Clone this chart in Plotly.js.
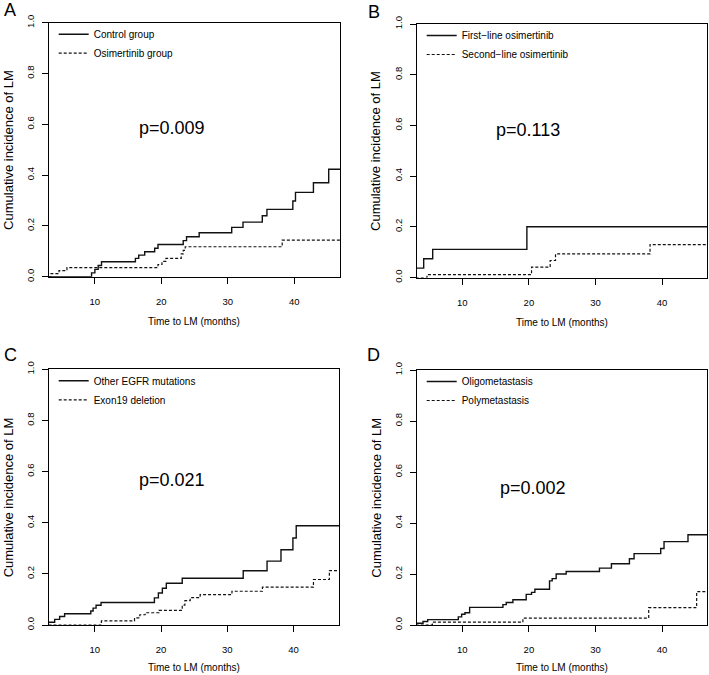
<!DOCTYPE html>
<html>
<head>
<meta charset="utf-8">
<script src="https://cdn.plot.ly/plotly-3.0.1.min.js"></script>
<style>html,body{margin:0;padding:0;background:#fff;}#chart{width:709px;height:675px;}</style>
</head>
<body>
<div id="chart"></div>
<script>
// ---- Data ----
// Panel A
const controlTime = [9.5, 10.0, 10.5, 11.0, 16.1, 16.6, 17.5, 19.0, 19.5, 23.3, 23.8, 25.7, 30.6, 32.3, 35.2, 35.9, 39.8, 40.2, 42.9, 45.2];
const controlCum  = [0.015, 0.029, 0.044, 0.059, 0.072, 0.085, 0.098, 0.112, 0.127, 0.142, 0.157, 0.173, 0.194, 0.215, 0.24, 0.265, 0.298, 0.332, 0.37, 0.423];
const osiTime = [3.4, 4.6, 5.8, 19.5, 20.1, 20.7, 23.0, 23.3, 23.6, 38.2];
const osiCum  = [0.012, 0.024, 0.036, 0.048, 0.06, 0.072, 0.09, 0.104, 0.118, 0.144];
// Panel B
const firstTime = [3.0, 4.2, 5.55, 19.7];
const firstCum  = [0.037, 0.074, 0.111, 0.2];
const secondTime = [4.7, 20.4, 23.2, 24.0, 38.2];
const secondCum  = [0.011, 0.041, 0.067, 0.093, 0.13];
// Panel C
const otherTime = [3.0, 3.95, 4.7, 5.45, 9.4, 9.75, 10.2, 10.95, 19.0, 19.6, 20.2, 20.8, 23.2, 32.4, 36.0, 38.1, 39.9, 40.4];
const otherCum  = [0.011, 0.022, 0.033, 0.044, 0.055, 0.066, 0.077, 0.088, 0.106, 0.125, 0.144, 0.163, 0.183, 0.212, 0.25, 0.294, 0.34, 0.388];
const exonTime = [11.0, 16.0, 16.8, 17.6, 19.7, 23.2, 23.6, 24.4, 25.9, 30.7, 35.3, 43.0, 45.4];
const exonCum  = [0.016, 0.028, 0.04, 0.048, 0.057, 0.078, 0.095, 0.107, 0.119, 0.132, 0.148, 0.178, 0.213];
// Panel D
const oligoTime = [3.0, 4.1, 4.8, 9.4, 9.9, 10.4, 11.1, 16.1, 16.6, 17.6, 19.6, 20.4, 20.9, 23.1, 23.5, 24.1, 25.6, 30.6, 32.4, 35.1, 35.8, 39.8, 40.3, 43.9];
const oligoCum  = [0.007, 0.014, 0.021, 0.032, 0.042, 0.048, 0.069, 0.08, 0.088, 0.099, 0.12, 0.128, 0.14, 0.173, 0.182, 0.2, 0.21, 0.223, 0.24, 0.26, 0.28, 0.3, 0.327, 0.354];
const polyTime = [5.5, 19.1, 38.0, 45.2];
const polyCum  = [0.011, 0.027, 0.068, 0.131];

const panelLetters = ['A', 'B', 'C', 'D'];
const pValues = ['p=0.009', 'p=0.113', 'p=0.021', 'p=0.002'];
const pPosX = [21.6, 19.8, 21.6, 20.6];
const pPosY = [0.584, 0.58, 0.566, 0.536];
const seriesNames = [
  ['Control group', 'Osimertinib group'],
  ['First\u2212line osimertinib', 'Second\u2212line osimertinib'],
  ['Other EGFR mutations', 'Exon19 deletion'],
  ['Oligometastasis', 'Polymetastasis']
];
const xTickVals = [10, 20, 30, 40];
const yTickVals = [0, 0.2, 0.4, 0.6, 0.8, 1.0];
const yTickText = ['0.0', '0.2', '0.4', '0.6', '0.8', '1.0'];
const xTitle = 'Time to LM (months)';
const yTitle = 'Cumulative incidence of LM';

// ---- Build chart ----
const FONT = 'Liberation Sans, Arial, Helvetica, sans-serif';
const W = 709, H = 675;
const END_T = 47.5;

function steps(t, c) {
  return { x: [0].concat(t, [END_T]), y: [0].concat(c, [c[c.length - 1]]) };
}

const data = [
  [controlTime, controlCum, osiTime, osiCum],
  [firstTime, firstCum, secondTime, secondCum],
  [otherTime, otherCum, exonTime, exonCum],
  [oligoTime, oligoCum, polyTime, polyCum]
];

// panel boxes in pixels: [left, right, top, bottom]
const boxes = [
  [48.7, 340.0, 22.7, 276.7],
  [416.7, 707.3, 24.0, 277.5],
  [48.7, 339.3, 369.3, 625.0],
  [416.7, 707.3, 370.0, 625.0]
];
const xRanges = [[3.05, 46.9], [3.15, 46.8], [3.05, 46.9], [3.15, 46.8]];

const traces = [];
const layout = {
  width: W, height: H,
  margin: { l: 0, r: 0, t: 0, b: 0 },
  paper_bgcolor: '#fff', plot_bgcolor: '#fff',
  font: { family: FONT, color: '#000' },
  annotations: [],
  showlegend: true
};

data.forEach((d, i) => {
  const n = i === 0 ? '' : String(i + 1);
  const legendId = 'legend' + n;
  const s1 = steps(d[0], d[1]);
  const s2 = steps(d[2], d[3]);
  traces.push({
    x: s1.x, y: s1.y, type: 'scatter', mode: 'lines',
    line: { shape: 'hv', color: '#111', width: 1.4 },
    name: seriesNames[i][0], xaxis: 'x' + n, yaxis: 'y' + n, legend: legendId,
    hoverinfo: 'x+y'
  });
  traces.push({
    x: s2.x, y: s2.y, type: 'scatter', mode: 'lines',
    line: { shape: 'hv', color: '#111', width: 1.2, dash: '3px,2px' },
    name: seriesNames[i][1], xaxis: 'x' + n, yaxis: 'y' + n, legend: legendId,
    hoverinfo: 'x+y'
  });
  const b = boxes[i];
  const axCommon = {
    showline: true, mirror: true, linecolor: '#000', linewidth: 1,
    ticks: 'outside', ticklen: 6, tickwidth: 1, tickcolor: '#000',
    showgrid: false, zeroline: false, fixedrange: true,
    tickfont: { family: FONT, size: 9.5, color: '#000' }
  };
  layout['xaxis' + n] = Object.assign({}, axCommon, {
    domain: [b[0] / W, b[1] / W], anchor: 'y' + n,
    range: xRanges[i], tickmode: 'array', tickvals: xTickVals,
    ticklabelstandoff: 10
  });
  layout['yaxis' + n] = Object.assign({}, axCommon, {
    domain: [1 - b[3] / H, 1 - b[2] / H], anchor: 'x' + n,
    range: [0, 1], tickmode: 'array', tickvals: yTickVals, ticktext: yTickText,
    tickangle: -90, ticklabelstandoff: 4
  });
  layout[legendId] = {
    x: (b[0] + 5) / W, xanchor: 'left',
    y: 1 - (b[2] - 3) / H, yanchor: 'top',
    bgcolor: 'rgba(0,0,0,0)', borderwidth: 0,
    font: { family: FONT, size: 10, color: '#000' },
    tracegroupgap: 0, itemclick: false, itemdoubleclick: false
  };
  // p-value
  layout.annotations.push({
    xref: 'x' + n, yref: 'y' + n, x: pPosX[i], y: pPosY[i],
    text: pValues[i], showarrow: false,
    font: { family: FONT, size: 18, color: '#000' },
    xanchor: 'center', yanchor: 'middle'
  });
  // panel letter
  layout.annotations.push({
    xref: 'paper', yref: 'paper',
    x: (i % 2 === 0 ? 10 : 374) / W,
    y: 1 - (i < 2 ? (i === 0 ? 10.5 : 11.7) : 354.5) / H,
    text: panelLetters[i], showarrow: false,
    font: { family: FONT, size: 18, color: '#000' },
    xanchor: 'center', yanchor: 'middle'
  });
  // axis titles
  layout.annotations.push({
    xref: 'paper', yref: 'paper',
    x: ((b[0] + b[1]) / 2) / W, y: 1 - (b[3] + (i < 2 ? 45 : 42)) / H,
    text: xTitle, showarrow: false,
    font: { family: FONT, size: 10, color: '#000' },
    xanchor: 'center', yanchor: 'middle'
  });
  layout.annotations.push({
    xref: 'paper', yref: 'paper',
    x: (b[0] - 40.5) / W, y: 1 - ((b[2] + b[3]) / 2) / H,
    text: yTitle, showarrow: false, textangle: -90,
    font: { family: FONT, size: 13, color: '#000' },
    xanchor: 'center', yanchor: 'middle'
  });
});

Plotly.newPlot('chart', traces, layout, { displayModeBar: false, staticPlot: true });
</script>
</body>
</html>
